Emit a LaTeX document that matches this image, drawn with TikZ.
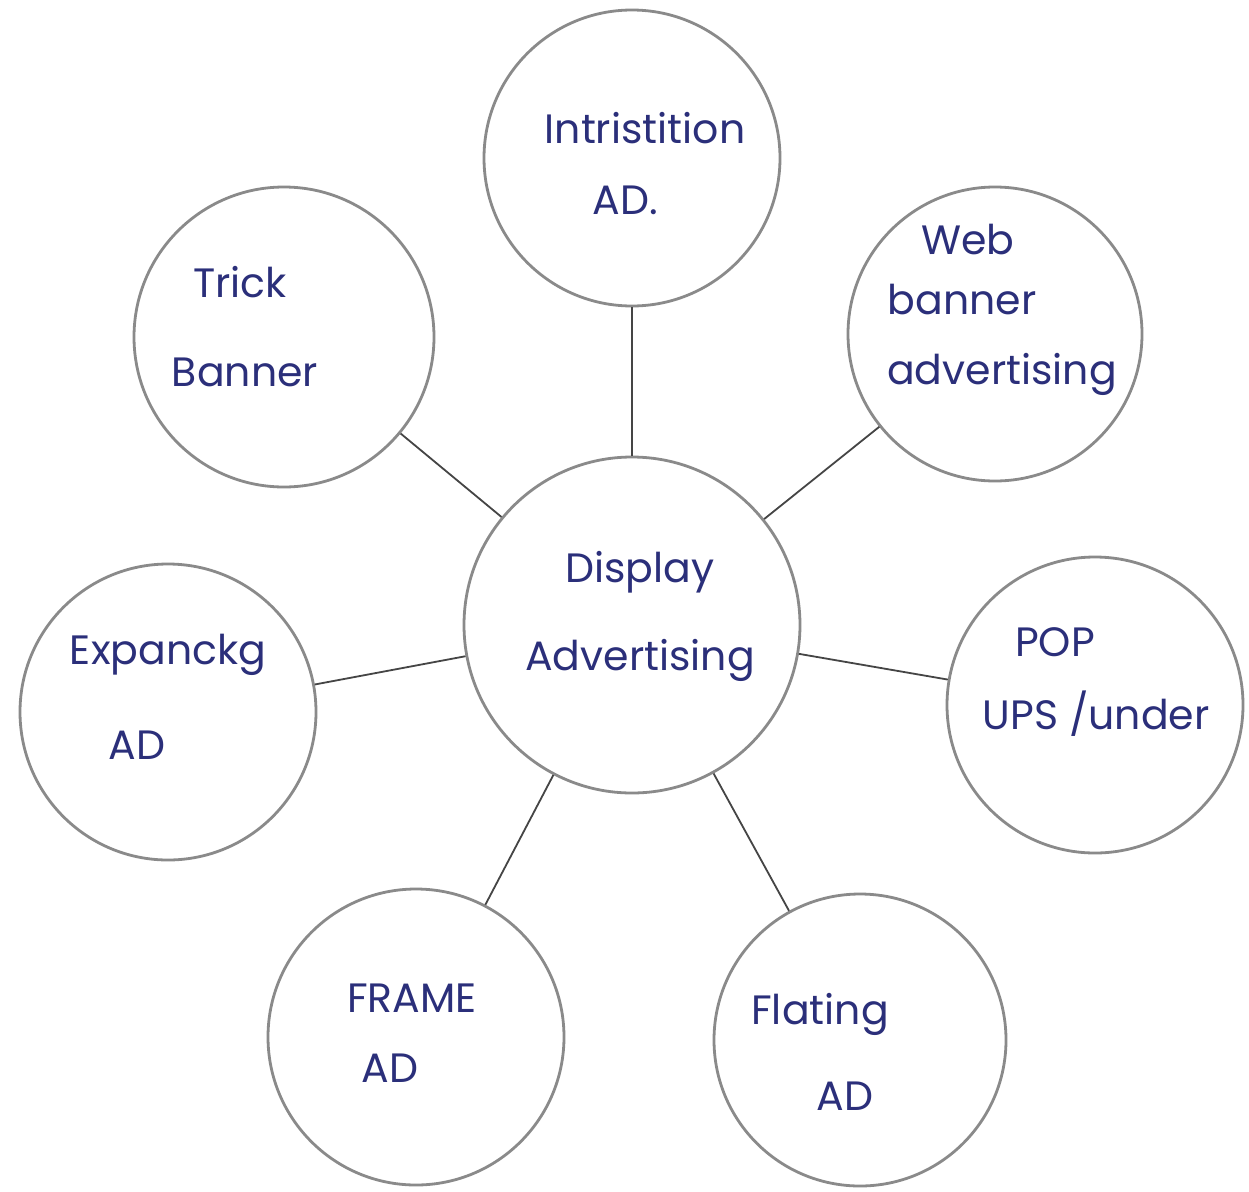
\documentclass[tikz,border=0pt]{standalone}
\usepackage{fontspec}
\setmainfont{Poppins}
\definecolor{ink}{HTML}{2B2F7A}
\definecolor{rim}{HTML}{8A8A8A}
\definecolor{wire}{HTML}{454545}
\begin{document}
\begin{tikzpicture}[x=1pt,y=-1pt,
  bubble/.style={circle,draw=rim,line width=2.8pt,inner sep=0pt},
  link/.style={draw=wire,line width=1.8pt},
  word/.style={text=ink,font=\fontsize{41}{46}\selectfont\mdseries,inner sep=0pt}]
\useasboundingbox[fill=white] (0,0) rectangle (1249,1191);
% bubbles
\node[bubble,minimum size=336pt] (hub) at (632,625) {};
\node[bubble,minimum size=296pt] (inter) at (632,158) {};
\node[bubble,minimum size=294pt] (web) at (995,334) {};
\node[bubble,minimum size=300pt] (trick) at (284,337) {};
\node[bubble,minimum size=296pt] (expand) at (168,712) {};
\node[bubble,minimum size=296pt] (pop) at (1095,705) {};
\node[bubble,minimum size=296pt] (frame) at (416,1037) {};
\node[bubble,minimum size=292pt] (float) at (860,1040) {};
% connectors
\draw[link] (hub) -- (inter);
\draw[link] (hub) -- (web);
\draw[link] (hub) -- (trick);
\draw[link] (hub) -- (expand);
\draw[link] (hub) -- (pop);
\draw[link] (hub) -- (frame);
\draw[link] (hub) -- (float);
% labels
\node[word] (hubA) at (640,572) {Display};
\node[word] (hubB) at (640,660) {Advertising};
\node[word] (interA) at (645,128) {Intristition};
\node[word] (interB) at (625,200) {AD.};
\node[word] (webA) at (968,240) {Web};
\node[word] (webB) at (962,300) {banner};
\node[word] (webC) at (1002,374) {advertising};
\node[word] (trickA) at (240,282) {Trick};
\node[word] (trickB) at (245,372) {Banner};
\node[word] (expandA) at (168,655) {Expanckg};
\node[word] (expandB) at (137,745) {AD};
\node[word] (popA) at (1055,642) {POP};
\node[word] (popB) at (1096,714) {UPS /under};
\node[word] (frameA) at (412,998) {FRAME};
\node[word] (frameB) at (390,1068) {AD};
\node[word] (floatA) at (820,1014) {Flating};
\node[word] (floatB) at (845,1096) {AD};
\end{tikzpicture}
\end{document}
